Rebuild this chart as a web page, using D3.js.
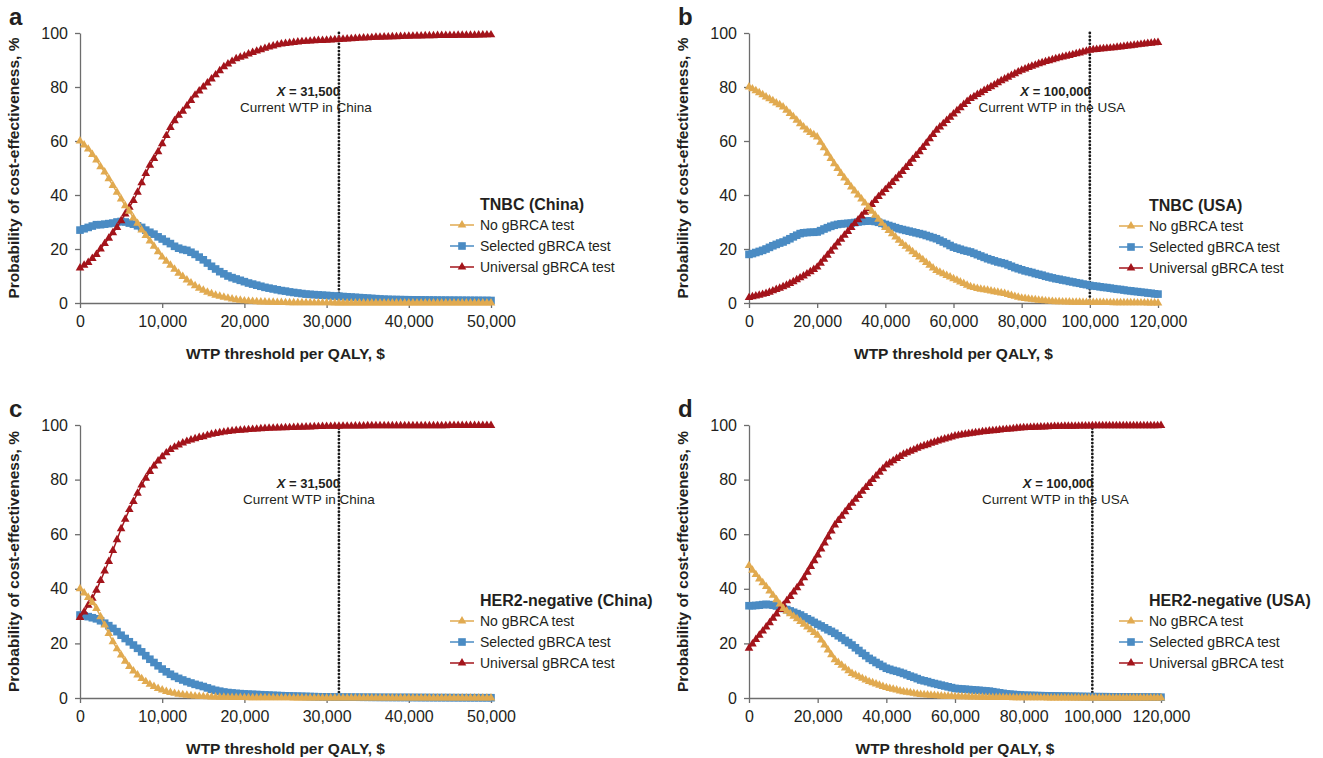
<!DOCTYPE html>
<html>
<head>
<meta charset="utf-8">
<script src="https://cdn.jsdelivr.net/npm/d3@7"></script>
<style>
  body { margin: 0; background: #fff; }
  svg text { font-family: "Liberation Sans", Arial, sans-serif; fill: #231f20; }
</style>
</head>
<body>
<svg id="chart" width="1323" height="758"></svg>
<script>
// tick labels
var yTicks = [0, 20, 40, 60, 80, 100];
var xTicksChina = [0, 10000, 20000, 30000, 40000, 50000];
var xTicksUSA = [0, 20000, 40000, 60000, 80000, 100000, 120000];

var seriesNames = ['No gBRCA test', 'Selected gBRCA test', 'Universal gBRCA test'];
var seriesColors = ['#e1aa50', '#4a8bc3', '#a3141b'];

// WTP grid ($ per QALY)
var wtpChina = d3.range(0, 50001, 500);
var wtpUSA = d3.range(0, 120001, 1000);

// a - TNBC (China)
var tnbcChinaNo = [
  60, 58.5, 57, 55, 53, 50.5, 48.5, 46, 43.5, 41,
  38.5, 36, 34, 31.5, 29.5, 27, 25, 23, 21, 19,
  17, 15.5, 14, 12.5, 11, 9.8, 8.5, 7.4, 6.4, 5.5,
  4.7, 4, 3.4, 2.9, 2.5, 2.1, 1.8, 1.5, 1.2, 1,
  0.8, 0.7, 0.6, 0.5, 0.4, 0.35, 0.3, 0.25, 0.2, 0.18,
  0.15, 0.13, 0.12, 0.1, 0.1, 0.08, 0.07, 0.06, 0.05, 0.05,
  0.04, 0.04, 0.03, 0.03, 0.03, 0.02, 0.02, 0.02, 0.02, 0.01,
  0.01, 0.01, 0.01, 0.01, 0.01, 0, 0, 0, 0, 0,
  0, 0, 0, 0, 0, 0, 0, 0, 0, 0,
  0, 0, 0, 0, 0, 0, 0, 0, 0, 0,
  0
];
var tnbcChinaSel = [
  27, 27.5, 28, 28.5, 29, 29, 29.2, 29.4, 29.6, 30,
  30.2, 30, 29.6, 29.2, 28.6, 28, 27, 26.2, 25.5, 24.5,
  23.7, 22.8, 22, 21, 20.3, 19.8, 19.5, 18.8, 18, 17,
  16, 14.8, 13.6, 12.6, 11.6, 10.8, 10, 9.4, 8.9, 8.4,
  7.9, 7.4, 7, 6.6, 6.2, 5.8, 5.5, 5.2, 4.9, 4.6,
  4.4, 4.1, 3.9, 3.7, 3.5, 3.3, 3.2, 3.1, 3, 2.9,
  2.8, 2.7, 2.6, 2.5, 2.4, 2.3, 2.2, 2.1, 2, 1.9,
  1.8, 1.7, 1.6, 1.5, 1.4, 1.35, 1.3, 1.28, 1.25, 1.22,
  1.2, 1.18, 1.16, 1.14, 1.12, 1.1, 1.08, 1.06, 1.05, 1.04,
  1.03, 1.02, 1.01, 1, 0.99, 0.98, 0.97, 0.96, 0.95, 0.94,
  0.93
];
var tnbcChinaUni = [
  13, 14, 15, 16.5, 18, 20, 22, 24, 26, 28,
  30.5, 33, 35.5, 38, 41, 44.5, 48, 51, 53.5, 56,
  59, 62, 65, 67.5, 69.5, 71, 73, 75, 77, 78.5,
  80, 81.5, 83, 84.5, 86, 87.5, 88.5, 89.5, 90.5, 91,
  91.5, 92.2, 92.8, 93.3, 93.8, 94.3, 94.8, 95.2, 95.6, 95.9,
  96.1, 96.3, 96.5, 96.7, 96.8, 96.9, 97, 97.1, 97.2, 97.25,
  97.3, 97.4, 97.5, 97.6, 97.7, 97.8, 97.9, 98, 98.1, 98.15,
  98.2, 98.3, 98.4, 98.45, 98.5, 98.55, 98.6, 98.65, 98.7, 98.75,
  98.8, 98.85, 98.9, 98.9, 98.95, 99, 99, 99.05, 99.05, 99.1,
  99.1, 99.1, 99.15, 99.15, 99.2, 99.2, 99.2, 99.25, 99.25, 99.3,
  99.3
];

// b - TNBC (USA)
var tnbcUSANo = [
  80, 79.3, 78.6, 77.9, 77.1, 76.3, 75.6, 74.9, 74.1, 73.4,
  72.6, 71.4, 70.2, 69, 67.7, 66.4, 65.2, 64.1, 63.1, 62.3,
  61.5, 59.5, 57.5, 55.5, 53.5, 51.6, 49.8, 48, 46.3, 44.6,
  43, 41.5, 40, 38.5, 37, 35.5, 34, 32.5, 31, 29.5,
  28, 26.8, 25.6, 24.4, 23.2, 22, 21, 20, 19, 18,
  17, 16, 15, 14, 13, 12, 11.4, 10.8, 10.2, 9.6,
  9, 8.4, 7.8, 7.2, 6.6, 6, 5.7, 5.4, 5.1, 4.9,
  4.7, 4.45, 4.2, 3.95, 3.7, 3.5, 3.15, 2.8, 2.45, 2.1,
  1.8, 1.65, 1.5, 1.35, 1.2, 1, 0.9, 0.8, 0.7, 0.6,
  0.5, 0.46, 0.42, 0.38, 0.34, 0.3, 0.28, 0.26, 0.24, 0.22,
  0.2, 0.19, 0.18, 0.17, 0.16, 0.15, 0.14, 0.13, 0.12, 0.11,
  0.1, 0.09, 0.08, 0.07, 0.06, 0.05, 0.04, 0.03, 0.02, 0.01,
  0
];
var tnbcUSASel = [
  18, 18.3, 18.7, 19.1, 19.5, 20, 20.6, 21.2, 21.7, 22.2,
  22.6, 23.2, 23.8, 24.5, 25.1, 25.7, 26, 26.1, 26.2, 26.2,
  26.3, 26.8, 27.4, 27.9, 28.4, 28.8, 29.1, 29.3, 29.4, 29.5,
  29.6, 29.8, 30, 30.2, 30.3, 30.4, 30.4, 30.2, 29.9, 29.5,
  29.1, 28.7, 28.3, 27.9, 27.5, 27.2, 26.9, 26.6, 26.3, 26,
  25.7, 25.4, 25, 24.6, 24.2, 23.8, 23.2, 22.6, 22, 21.3,
  20.7, 20.3, 19.9, 19.5, 19.2, 18.9, 18.4, 17.9, 17.4, 16.9,
  16.4, 16, 15.6, 15.2, 14.9, 14.6, 14.1, 13.6, 13.1, 12.7,
  12.3, 11.9, 11.6, 11.3, 10.9, 10.6, 10.3, 9.9, 9.6, 9.3,
  9, 8.8, 8.5, 8.3, 8, 7.8, 7.5, 7.3, 7, 6.8,
  6.5, 6.3, 6.2, 6, 5.8, 5.7, 5.5, 5.3, 5.1, 5,
  4.8, 4.6, 4.5, 4.3, 4.2, 4, 3.9, 3.7, 3.6, 3.4,
  3.3
];
var tnbcUSAUni = [
  2, 2.3, 2.6, 2.9, 3.2, 3.5, 4, 4.5, 5, 5.5,
  6, 6.6, 7.2, 7.9, 8.6, 9.3, 10, 10.8, 11.6, 12.4,
  13.3, 14.7, 16.2, 17.7, 19.2, 20.7, 22.2, 23.6, 25.1, 26.5,
  28, 29.4, 30.8, 32.2, 33.6, 35, 36.5, 38, 39.4, 40.7,
  42, 43.3, 44.6, 46, 47.3, 48.7, 50.2, 51.7, 53.2, 54.6,
  56, 57.6, 59.2, 60.8, 62.4, 64, 65.2, 66.4, 67.6, 68.8,
  70, 71.2, 72.3, 73.5, 74.6, 75.7, 76.4, 77.2, 77.9, 78.7,
  79.4, 80.1, 80.8, 81.6, 82.3, 83, 83.6, 84.3, 84.9, 85.6,
  86.2, 86.7, 87.2, 87.7, 88.1, 88.6, 89, 89.4, 89.7, 90.1,
  90.5, 90.8, 91.1, 91.4, 91.7, 92, 92.3, 92.6, 93, 93.3,
  93.6, 93.8, 93.9, 94.1, 94.2, 94.3, 94.4, 94.5, 94.7, 94.8,
  95, 95.2, 95.3, 95.5, 95.6, 95.8, 95.9, 96.1, 96.2, 96.4,
  96.5
];

// c - HER2-negative (China)
var her2ChinaNo = [
  40, 38.5, 36.8, 35, 32.8, 29.8, 26.7, 23.6, 20.6, 18,
  15.7, 13.5, 11.5, 9.9, 8.4, 7.1, 6, 5, 4.2, 3.5,
  2.9, 2.4, 2, 1.7, 1.4, 1.2, 1, 0.85, 0.7, 0.6,
  0.5, 0.45, 0.4, 0.35, 0.3, 0.27, 0.24, 0.21, 0.18, 0.16,
  0.15, 0.13, 0.12, 0.1, 0.09, 0.08, 0.07, 0.06, 0.05, 0.05,
  0.04, 0.04, 0.03, 0.03, 0.02, 0.02, 0.02, 0.01, 0.01, 0.01,
  0, 0, 0, 0, 0, 0, 0, 0, 0, 0,
  0, 0, 0, 0, 0, 0, 0, 0, 0, 0,
  0, 0, 0, 0, 0, 0, 0, 0, 0, 0,
  0, 0, 0, 0, 0, 0, 0, 0, 0, 0,
  0
];
var her2ChinaSel = [
  30.4, 30.1, 29.8, 29.4, 29, 28.3, 27.4, 26.5, 25.5, 24.3,
  23, 21.8, 20.6, 19.4, 18.2, 16.9, 15.5, 14.2, 13, 11.8,
  10.6, 9.6, 8.7, 7.9, 7.2, 6.6, 6, 5.5, 5, 4.6,
  4.2, 3.7, 3.2, 2.8, 2.5, 2.2, 2, 1.85, 1.7, 1.6,
  1.5, 1.42, 1.35, 1.28, 1.2, 1.12, 1.05, 0.98, 0.92, 0.86,
  0.8, 0.75, 0.7, 0.66, 0.62, 0.58, 0.54, 0.5, 0.46, 0.43,
  0.4, 0.38, 0.36, 0.34, 0.32, 0.31, 0.3, 0.29, 0.28, 0.27,
  0.26, 0.25, 0.24, 0.23, 0.22, 0.22, 0.21, 0.21, 0.2, 0.2,
  0.2, 0.19, 0.18, 0.17, 0.16, 0.16, 0.15, 0.15, 0.14, 0.14,
  0.13, 0.13, 0.12, 0.12, 0.12, 0.11, 0.11, 0.11, 0.1, 0.1,
  0.1
];
var her2ChinaUni = [
  29.5, 31.5, 34, 36.5, 39.5, 43, 46.5, 50, 54, 58,
  62, 65.5, 69, 72, 75, 78, 80.5, 83, 85, 86.8,
  88.4, 89.8, 91, 91.9, 92.7, 93.4, 94, 94.5, 95, 95.4,
  95.7, 96.2, 96.6, 96.9, 97.2, 97.4, 97.6, 97.8, 98, 98.1,
  98.2, 98.3, 98.4, 98.5, 98.6, 98.7, 98.8, 98.85, 98.9, 98.95,
  99, 99.05, 99.1, 99.15, 99.2, 99.25, 99.3, 99.35, 99.4, 99.45,
  99.5, 99.5, 99.55, 99.55, 99.6, 99.6, 99.6, 99.65, 99.65, 99.65,
  99.7, 99.7, 99.7, 99.7, 99.7, 99.7, 99.7, 99.7, 99.7, 99.7,
  99.7, 99.7, 99.75, 99.75, 99.75, 99.75, 99.75, 99.75, 99.75, 99.75,
  99.8, 99.8, 99.8, 99.8, 99.8, 99.8, 99.8, 99.8, 99.8, 99.8,
  99.8
];

// d - HER2-negative (USA)
var her2USANo = [
  48.5, 46.8, 45.2, 43.6, 42.2, 40.8, 39.2, 37.6, 36, 34.4,
  32.8, 31.8, 30.9, 29.9, 29, 28, 27, 26, 25, 24,
  23, 21.2, 19.4, 17.6, 15.8, 14, 13, 12, 11, 10,
  9, 8.4, 7.8, 7.2, 6.6, 6, 5.6, 5.1, 4.7, 4.2,
  3.8, 3.5, 3.2, 2.9, 2.6, 2.3, 2.1, 1.9, 1.7, 1.5,
  1.3, 1.2, 1.1, 1, 0.9, 0.8, 0.74, 0.68, 0.62, 0.56,
  0.5, 0.47, 0.44, 0.41, 0.38, 0.35, 0.32, 0.29, 0.26, 0.23,
  0.2, 0.19, 0.18, 0.17, 0.16, 0.15, 0.14, 0.13, 0.12, 0.11,
  0.1, 0.09, 0.08, 0.07, 0.06, 0.05, 0.04, 0.03, 0.02, 0.01,
  0, 0, 0, 0, 0, 0, 0, 0, 0, 0,
  0, 0, 0, 0, 0, 0, 0, 0, 0, 0,
  0, 0, 0, 0, 0, 0, 0, 0, 0, 0,
  0
];
var her2USASel = [
  33.8, 33.8, 33.9, 34, 34.2, 34.3, 34.2, 34, 33.7, 33.3,
  32.8, 32.4, 31.9, 31.4, 30.9, 30.4, 29.7, 29, 28.4, 27.7,
  27, 26.4, 25.7, 25, 24.4, 23.7, 22.8, 22, 21.1, 20.3,
  19.4, 18.4, 17.4, 16.4, 15.5, 14.5, 13.8, 13, 12.3, 11.6,
  10.9, 10.5, 10.1, 9.8, 9.4, 9, 8.5, 8, 7.6, 7.1,
  6.6, 6.3, 6, 5.6, 5.3, 5, 4.7, 4.4, 4.1, 3.8,
  3.5, 3.4, 3.3, 3.2, 3.1, 3, 2.9, 2.8, 2.7, 2.6,
  2.5, 2.3, 2.1, 1.9, 1.7, 1.5, 1.4, 1.3, 1.2, 1.1,
  1, 0.97, 0.94, 0.91, 0.88, 0.85, 0.82, 0.79, 0.76, 0.73,
  0.7, 0.68, 0.66, 0.64, 0.62, 0.6, 0.58, 0.56, 0.54, 0.52,
  0.5, 0.49, 0.48, 0.47, 0.46, 0.45, 0.44, 0.43, 0.42, 0.41,
  0.4, 0.39, 0.38, 0.37, 0.36, 0.35, 0.34, 0.33, 0.32, 0.31,
  0.3
];
var her2USAUni = [
  18.2, 19.8, 21.4, 23, 24.5, 26, 27.6, 29.2, 30.8, 32.4,
  34, 35.6, 37.2, 38.8, 40.4, 42, 44, 46.1, 48.2, 50.3,
  52.4, 54.6, 56.8, 59, 61.2, 63.4, 65, 66.6, 68.2, 69.8,
  71.3, 72.8, 74.2, 75.7, 77.1, 78.6, 80, 81.3, 82.7, 84,
  85.3, 86.1, 86.9, 87.7, 88.5, 89.3, 89.8, 90.4, 90.9, 91.5,
  92, 92.4, 92.8, 93.3, 93.7, 94.1, 94.5, 94.9, 95.2, 95.6,
  96, 96.2, 96.4, 96.6, 96.8, 97, 97.2, 97.3, 97.5, 97.6,
  97.8, 97.9, 98, 98.2, 98.3, 98.4, 98.5, 98.6, 98.8, 98.9,
  99, 99.05, 99.1, 99.15, 99.2, 99.25, 99.3, 99.35, 99.4, 99.45,
  99.5, 99.5, 99.52, 99.54, 99.56, 99.58, 99.6, 99.62, 99.64, 99.67,
  99.7, 99.7, 99.7, 99.7, 99.7, 99.7, 99.7, 99.7, 99.7, 99.7,
  99.75, 99.75, 99.75, 99.75, 99.75, 99.75, 99.75, 99.75, 99.75, 99.75,
  99.8
];

var panels = [
  {letter: 'a', title: 'TNBC (China)', wtp: wtpChina, ticks: xTicksChina, xMax: 50000,
   series: [tnbcChinaNo, tnbcChinaSel, tnbcChinaUni],
   left: 80, top: 33, width: 411, height: 270,
   current: 31500, currentLabel: '31,500', note: 'Current WTP in China', noteDx: -33,
   legendX: 450, legendY: 204},
  {letter: 'b', title: 'TNBC (USA)', wtp: wtpUSA, ticks: xTicksUSA, xMax: 120000,
   series: [tnbcUSANo, tnbcUSASel, tnbcUSAUni],
   left: 749, top: 33, width: 409, height: 270,
   current: 100000, currentLabel: '100,000', note: 'Current WTP in the USA', noteDx: -38,
   legendX: 1119, legendY: 205},
  {letter: 'c', title: 'HER2-negative (China)', wtp: wtpChina, ticks: xTicksChina, xMax: 50000,
   series: [her2ChinaNo, her2ChinaSel, her2ChinaUni],
   left: 80, top: 425, width: 411, height: 273,
   current: 31500, currentLabel: '31,500', note: 'Current WTP in China', noteDx: -30,
   legendX: 450, legendY: 600},
  {letter: 'd', title: 'HER2-negative (USA)', wtp: wtpUSA, ticks: xTicksUSA, xMax: 120000,
   series: [her2USANo, her2USASel, her2USAUni],
   left: 749, top: 425, width: 412, height: 273,
   current: 100000, currentLabel: '100,000', note: 'Current WTP in the USA', noteDx: -37,
   legendX: 1119, legendY: 600}
];

var svg = d3.select('#chart');

function markerPath(i) {
  // triangles for no / universal test, squares for selected
  if (i === 1) return d3.symbol().type(d3.symbolSquare).size(58)();
  return d3.symbol().type(d3.symbolTriangle).size(32)();
}

panels.forEach(function(p) {
  var g = svg.append('g').attr('transform', 'translate(' + p.left + ',' + p.top + ')');

  var x = d3.scaleLinear().domain([0, p.xMax]).range([0, p.width]);
  var y = d3.scaleLinear().domain([0, 100]).range([p.height, 0]);

  // axes
  var yAxis = g.append('g')
    .call(d3.axisLeft(y).tickValues(yTicks).tickSize(5).tickPadding(7).tickSizeOuter(0));
  var xAxis = g.append('g')
    .attr('transform', 'translate(0,' + p.height + ')')
    .call(d3.axisBottom(x).tickValues(p.ticks).tickFormat(d3.format(',')).tickSize(5).tickPadding(8).tickSizeOuter(0));
  [yAxis, xAxis].forEach(function(a) {
    a.select('.domain').attr('stroke', '#6d6d6d').attr('stroke-width', 1.3);
    a.selectAll('.tick line').attr('stroke', '#6d6d6d').attr('stroke-width', 1.3);
    a.selectAll('.tick text').style('font-size', '16px').attr('fill', '#231f20');
  });

  // current WTP dotted line
  var cx = x(p.current);
  g.append('line')
    .attr('x1', cx).attr('x2', cx)
    .attr('y1', 0).attr('y2', p.height)
    .attr('stroke', '#1a1a1a')
    .attr('stroke-width', 2.8)
    .attr('stroke-linecap', 'round')
    .attr('stroke-dasharray', '0.01 3.6');

  var lab = g.append('text')
    .attr('x', cx + 1).attr('y', 63)
    .attr('text-anchor', 'end')
    .style('font-size', '13px').style('font-weight', 'bold');
  lab.append('tspan').style('font-style', 'italic').text('X');
  lab.append('tspan').text(' = ' + p.currentLabel);

  g.append('text')
    .attr('x', cx + p.noteDx).attr('y', 79)
    .attr('text-anchor', 'middle')
    .style('font-size', '13.5px')
    .text(p.note);

  // series: selected first, then universal, then no test on top
  var line = d3.line()
    .x(function(d) { return x(d[0]); })
    .y(function(d) { return y(d[1]); });

  [1, 2, 0].forEach(function(i) {
    var pts = p.wtp.map(function(w, k) { return [w, p.series[i][k]]; });
    g.append('path')
      .datum(pts)
      .attr('d', line)
      .attr('fill', 'none')
      .attr('stroke', seriesColors[i])
      .attr('stroke-width', 1.5);
    g.append('g').selectAll('path')
      .data(pts)
      .enter().append('path')
      .attr('d', markerPath(i))
      .attr('transform', function(d) { return 'translate(' + x(d[0]) + ',' + y(d[1]) + ')'; })
      .attr('fill', seriesColors[i]);
  });

  // axis titles
  svg.append('text')
    .attr('x', p.left + p.width / 2).attr('y', p.top + p.height + 56)
    .attr('text-anchor', 'middle')
    .style('font-size', '15.5px').style('font-weight', 'bold')
    .text('WTP threshold per QALY, $');

  svg.append('text')
    .attr('transform', 'translate(' + (p.left - 61) + ',' + (p.top + p.height / 2) + ') rotate(-90)')
    .attr('text-anchor', 'middle')
    .style('font-size', '15.5px').style('font-weight', 'bold')
    .text('Probability of cost-effectiveness, %');

  // panel letter
  svg.append('text')
    .attr('x', p.left - 71).attr('y', p.top - 8)
    .style('font-size', '24px').style('font-weight', 'bold')
    .text(p.letter);

  // legend
  var leg = svg.append('g').attr('transform', 'translate(' + p.legendX + ',' + p.legendY + ')');
  leg.append('text')
    .attr('x', 30).attr('y', 0).attr('dy', '0.35em')
    .style('font-size', '16px').style('font-weight', 'bold')
    .text(p.title);
  seriesNames.forEach(function(name, i) {
    var row = leg.append('g').attr('transform', 'translate(0,' + (21 * (i + 1)) + ')');
    row.append('line')
      .attr('x1', 0).attr('x2', 24)
      .attr('stroke', seriesColors[i]).attr('stroke-width', 1.5);
    row.append('path')
      .attr('d', markerPath(i))
      .attr('transform', 'translate(12,0)')
      .attr('fill', seriesColors[i]);
    row.append('text')
      .attr('x', 30).attr('dy', '0.35em')
      .style('font-size', '14px')
      .text(name);
  });
});
</script>
</body>
</html>
